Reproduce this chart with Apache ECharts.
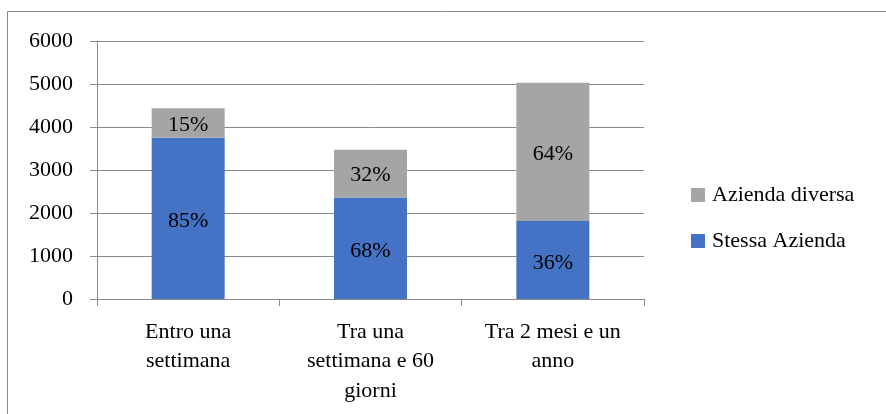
<!DOCTYPE html>
<html>
<head>
<meta charset="utf-8">
<script src="https://cdn.jsdelivr.net/npm/echarts@6/dist/echarts.min.js"></script>
<style>
html,body{margin:0;padding:0;background:#fff;}
#c{width:886px;height:414px;}
</style>
</head>
<body>
<div id="c"></div>
<script>
const categories = ["Entro una\nsettimana", "Tra una\nsettimana e 60\ngiorni", "Tra 2 mesi e un\nanno"];
const stessaAzienda = [3750, 2360, 1815];
const aziendaDiversa = [685, 1110, 3215];
const yTicks = [0, 1000, 2000, 3000, 4000, 5000, 6000];

const totals = stessaAzienda.map((v, i) => v + aziendaDiversa[i]);
const FONT = 'Liberation Serif';

const chart = echarts.init(document.getElementById('c'), null, {renderer: 'canvas'});
chart.setOption({
  animation: false,
  backgroundColor: '#fff',
  textStyle: {fontFamily: FONT, color: '#000'},
  graphic: [{
    type: 'rect',
    silent: true,
    shape: {x: 7.5, y: 11.5, width: 1200, height: 1200},
    style: {fill: 'none', stroke: '#8a8a8a', lineWidth: 1}
  }],
  grid: {left: 97, right: 242, top: 41, bottom: 115, containLabel: false},
  legend: {
    orient: 'vertical',
    left: 686,
    top: 179,
    itemWidth: 14,
    itemHeight: 14,
    itemGap: 24,
    icon: 'rect',
    data: ['Azienda diversa', 'Stessa Azienda'],
    textStyle: {fontFamily: FONT, fontSize: 22, color: '#000', padding: [0, 0, 0, 2]}
  },
  xAxis: {
    type: 'category',
    data: categories,
    axisLine: {lineStyle: {color: '#8a8a8a', width: 1}},
    axisTick: {show: true, length: 7, lineStyle: {color: '#8a8a8a'}},
    axisLabel: {fontFamily: FONT, fontSize: 22, color: '#000', margin: 18, lineHeight: 29.5, interval: 0}
  },
  yAxis: {
    type: 'value',
    min: 0,
    max: yTicks[yTicks.length - 1],
    interval: 1000,
    axisLine: {show: true, lineStyle: {color: '#8a8a8a', width: 1}},
    axisTick: {show: true, length: 7, lineStyle: {color: '#8a8a8a'}},
    splitLine: {show: true, lineStyle: {color: '#8a8a8a', width: 1}},
    axisLabel: {fontFamily: FONT, fontSize: 22, color: '#000', margin: 24, formatter: v => String(v)}
  },
  series: [
    {
      name: 'Stessa Azienda',
      type: 'bar',
      stack: 'tot',
      barWidth: 73,
      data: stessaAzienda,
      itemStyle: {color: '#4472C4'},
      label: {
        show: true, position: 'inside', offset: [0, 3], fontFamily: FONT, fontSize: 22, color: '#000',
        formatter: p => Math.round(p.value / totals[p.dataIndex] * 100) + '%'
      }
    },
    {
      name: 'Azienda diversa',
      type: 'bar',
      stack: 'tot',
      barWidth: 73,
      data: aziendaDiversa,
      itemStyle: {color: '#A5A5A5'},
      label: {
        show: true, position: 'inside', offset: [0, 2], fontFamily: FONT, fontSize: 22, color: '#000',
        formatter: p => Math.round(p.value / totals[p.dataIndex] * 100) + '%'
      }
    }
  ]
});
</script>
</body>
</html>
